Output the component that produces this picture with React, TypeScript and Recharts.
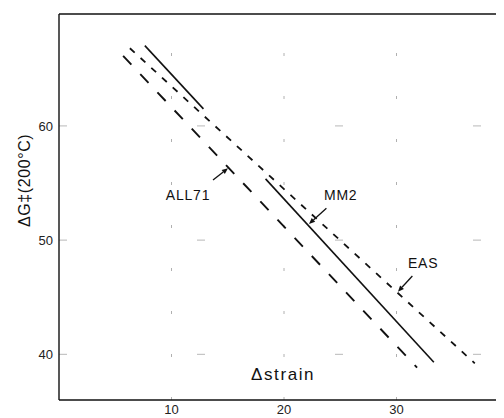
import React from "react";
import {
  LineChart,
  Line,
  XAxis,
  YAxis,
  ReferenceLine,
  ReferenceDot,
} from "recharts";

// Series (x = Δstrain, y = ΔG‡ at 200°C)
const all71 = [
  { x: 5.7, y: 66.13 },
  { x: 31.83, y: 38.83 },
];
const eas = [
  { x: 6.3, y: 66.8 },
  { x: 36.96, y: 39.21 },
];
const mm2Upper = [
  { x: 7.63, y: 67.03 },
  { x: 12.84, y: 61.49 },
];
const mm2Lower = [
  { x: 18.36, y: 55.36 },
  { x: 33.32, y: 39.3 },
];

const xTicks = [10, 20, 30];
const yTicks = [40, 50, 60];
const xDomain = [0, 40];
const yDomain = [36, 69.8];

// Annotations: label text, label anchor, arrow tail, arrow head (data coords)
const labelNames = ["ALL71", "MM2", "EAS"];
const labelPos = [
  { x: 11.47, y: 53.96 },
  { x: 25.04, y: 53.96 },
  { x: 32.37, y: 48.04 },
];
const arrowFrom = [
  { x: 13.69, y: 55.27 },
  { x: 23.77, y: 52.79 },
  { x: 31.41, y: 46.86 },
];
const arrowTo = [
  { x: 15.02, y: 56.29 },
  { x: 22.22, y: 51.42 },
  { x: 30.13, y: 45.48 },
];
const xTitle = "Δstrain";
const xTitlePos = { x: 19.92, y: 38.19 };
const yTitle = "ΔG‡(200°C)";
const yTitlePos = { x: -3.05, y: 55.23 };

const FONT = "'Liberation Sans', 'DejaVu Sans', sans-serif";
const INK = "#111";

const Arrow = (props: any) => {
  const { x1, y1, x2, y2 } = props;
  const ang = Math.atan2(y2 - y1, x2 - x1);
  const L = 6;
  const W = 2.6;
  const bx = x2 - L * Math.cos(ang);
  const by = y2 - L * Math.sin(ang);
  const px = -Math.sin(ang);
  const py = Math.cos(ang);
  const pts = `${x2},${y2} ${bx + W * px},${by + W * py} ${bx - W * px},${by - W * py}`;
  return (
    <g>
      <line x1={x1} y1={y1} x2={bx} y2={by} stroke={INK} strokeWidth={1.3} />
      <polygon points={pts} fill={INK} />
    </g>
  );
};

const textShape = (txt: string, size: number, spacing: number) => (p: any) => (
  <text
    x={p.cx}
    y={p.cy}
    textAnchor="middle"
    dominantBaseline="central"
    fontSize={size}
    letterSpacing={spacing}
    fontFamily={FONT}
    fill={INK}
  >
    {txt}
  </text>
);

const yTitleShape = (p: any) => (
  <text
    x={p.cx}
    y={p.cy}
    textAnchor="middle"
    dominantBaseline="central"
    fontSize={16}
    letterSpacing={0.6}
    fontFamily={FONT}
    fill={INK}
    transform={`rotate(-90 ${p.cx} ${p.cy})`}
  >
    {yTitle}
  </text>
);

export default function App() {
  const tickStyle = { fontSize: 13, fill: "#222", fontFamily: FONT };
  return (
    <div style={{ width: 504, height: 418 }}>
      <LineChart
        width={504}
        height={418}
        margin={{ top: 5, right: 3, left: 0, bottom: 0 }}
      >
        <XAxis
          dataKey="x"
          type="number"
          domain={xDomain}
          ticks={xTicks}
          tickSize={0}
          tickMargin={5}
          tickLine={false}
          height={26}
          tick={tickStyle}
          axisLine={{ stroke: INK, strokeWidth: 1.6 }}
        />
        <XAxis
          xAxisId="top"
          orientation="top"
          dataKey="x"
          type="number"
          domain={xDomain}
          ticks={xTicks}
          tick={false}
          tickLine={false}
          height={1}
          axisLine={{ stroke: INK, strokeWidth: 1.4 }}
        />
        <YAxis
          type="number"
          domain={yDomain}
          ticks={yTicks}
          tickSize={0}
          tickMargin={6}
          tickLine={false}
          width={51}
          tick={tickStyle}
          axisLine={{ stroke: INK, strokeWidth: 1.4 }}
        />
        {xTicks.map((t) => (
          <ReferenceLine
            key={`gx-${t}`}
            x={t}
            stroke="#b0b0b0"
            strokeWidth={1}
            strokeDasharray="3 40"
          />
        ))}
        {yTicks.map((t) => (
          <ReferenceLine
            key={`gy-${t}`}
            y={t}
            stroke="#b8b8b8"
            strokeWidth={1}
            strokeDasharray="8 130"
          />
        ))}
        <Line
          data={all71}
          dataKey="y"
          type="linear"
          stroke={INK}
          strokeWidth={1.9}
          strokeDasharray="12 13"
          dot={false}
          isAnimationActive={false}
        />
        <Line
          data={eas}
          dataKey="y"
          type="linear"
          stroke={INK}
          strokeWidth={1.8}
          strokeDasharray="6.5 8"
          dot={false}
          isAnimationActive={false}
        />
        <Line
          data={mm2Upper}
          dataKey="y"
          type="linear"
          stroke={INK}
          strokeWidth={1.6}
          dot={false}
          isAnimationActive={false}
        />
        <Line
          data={mm2Lower}
          dataKey="y"
          type="linear"
          stroke={INK}
          strokeWidth={1.6}
          dot={false}
          isAnimationActive={false}
        />
        {labelNames.map((name, i) => (
          <ReferenceLine
            key={`arr-${name}`}
            segment={[arrowFrom[i], arrowTo[i]]}
            shape={Arrow}
            ifOverflow="visible"
          />
        ))}
        {labelNames.map((name, i) => (
          <ReferenceDot
            key={`lab-${name}`}
            x={labelPos[i].x}
            y={labelPos[i].y}
            r={0}
            ifOverflow="visible"
            shape={textShape(name, 14, 0.8)}
          />
        ))}
        <ReferenceDot
          x={xTitlePos.x}
          y={xTitlePos.y}
          r={0}
          ifOverflow="visible"
          shape={textShape(xTitle, 17, 1.6)}
        />
        <ReferenceDot
          x={yTitlePos.x}
          y={yTitlePos.y}
          r={0}
          ifOverflow="visible"
          shape={yTitleShape}
        />
      </LineChart>
    </div>
  );
}
